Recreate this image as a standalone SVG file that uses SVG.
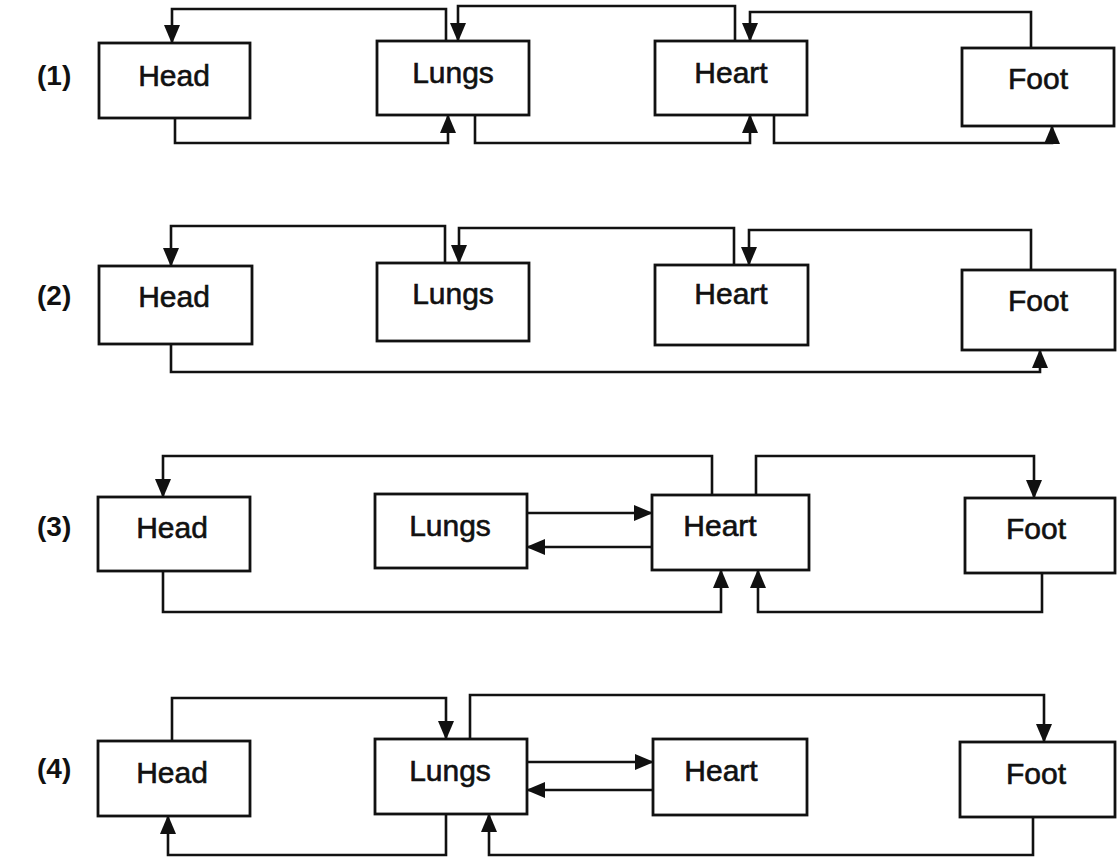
<svg xmlns="http://www.w3.org/2000/svg" width="1119" height="862" viewBox="0 0 1119 862">
  <style>
    .box { fill: #ffffff; stroke: #111111; stroke-width: 2.8; }
    .lbl { font-family: "Liberation Sans", Arial, sans-serif; font-size: 30px; fill: #111111; stroke: #111111; stroke-width: 0.6; text-anchor: middle; }
    .num { font-family: "Liberation Sans", Arial, sans-serif; font-size: 28px; font-weight: bold; fill: #111111; }
    .wire { fill: none; stroke: #111111; stroke-width: 2.6; marker-end: url(#arrow); }
  </style>
  <defs>
    <marker id="arrow" viewBox="0 0 19 16" refX="18" refY="8" markerWidth="19" markerHeight="16" markerUnits="userSpaceOnUse" orient="auto">
      <path d="M0,0 L19,8 L0,16 z" fill="#111111"/>
    </marker>
  </defs>
  <rect width="1119" height="862" fill="#ffffff"/>

  <!-- row numbers -->
  <g id="row-labels">
    <text class="num" x="37" y="85">(1)</text>
    <text class="num" x="37" y="305">(2)</text>
    <text class="num" x="37" y="536">(3)</text>
    <text class="num" x="37" y="778">(4)</text>
  </g>

  <!-- scheme 1 -->
  <g id="r1-head"><rect class="box" x="99" y="43" width="151" height="75"/><text class="lbl" x="174" y="86">Head</text></g>
  <g id="r1-lungs"><rect class="box" x="377" y="41" width="152" height="74"/><text class="lbl" x="453" y="83">Lungs</text></g>
  <g id="r1-heart"><rect class="box" x="655" y="41" width="152" height="74"/><text class="lbl" x="731" y="83">Heart</text></g>
  <g id="r1-foot"><rect class="box" x="962" y="48" width="152" height="78"/><text class="lbl" x="1038" y="89">Foot</text></g>

  <!-- scheme 2 -->
  <g id="r2-head"><rect class="box" x="99" y="266" width="153" height="78"/><text class="lbl" x="174" y="307">Head</text></g>
  <g id="r2-lungs"><rect class="box" x="377" y="263" width="152" height="78"/><text class="lbl" x="453" y="304">Lungs</text></g>
  <g id="r2-heart"><rect class="box" x="655" y="265" width="153" height="80"/><text class="lbl" x="731" y="304">Heart</text></g>
  <g id="r2-foot"><rect class="box" x="962" y="270" width="153" height="80"/><text class="lbl" x="1038" y="311">Foot</text></g>

  <!-- scheme 3 -->
  <g id="r3-head"><rect class="box" x="98" y="497" width="152" height="74"/><text class="lbl" x="172" y="538">Head</text></g>
  <g id="r3-lungs"><rect class="box" x="375" y="494" width="152" height="74"/><text class="lbl" x="450" y="536">Lungs</text></g>
  <g id="r3-heart"><rect class="box" x="652" y="495" width="157" height="75"/><text class="lbl" x="720" y="536">Heart</text></g>
  <g id="r3-foot"><rect class="box" x="965" y="498" width="150" height="75"/><text class="lbl" x="1036" y="539">Foot</text></g>

  <!-- scheme 4 -->
  <g id="r4-head"><rect class="box" x="98" y="741" width="152" height="75"/><text class="lbl" x="172" y="783">Head</text></g>
  <g id="r4-lungs"><rect class="box" x="375" y="739" width="152" height="75"/><text class="lbl" x="450" y="781">Lungs</text></g>
  <g id="r4-heart"><rect class="box" x="653" y="739" width="154" height="76"/><text class="lbl" x="721" y="781">Heart</text></g>
  <g id="r4-foot"><rect class="box" x="960" y="742" width="155" height="75"/><text class="lbl" x="1036" y="784">Foot</text></g>

  <g id="connectors">
    <!-- scheme 1 -->
    <path class="wire" d="M446,41 V9 H172 V43"/>
    <path class="wire" d="M735,41 V6 H458 V41"/>
    <path class="wire" d="M1031,48 V12 H750 V41"/>
    <path class="wire" d="M175,118 V143 H448 V115"/>
    <path class="wire" d="M475,115 V143 H750 V115"/>
    <path class="wire" d="M774,115 V143 H1052 V126"/>

    <!-- scheme 2 -->
    <path class="wire" d="M445,263 V226 H171 V266"/>
    <path class="wire" d="M734,265 V228 H459 V263"/>
    <path class="wire" d="M1031,270 V230 H749 V265"/>
    <path class="wire" d="M171,344 V372 H1040 V350"/>

    <!-- scheme 3 -->
    <path class="wire" d="M712,495 V456 H163 V497"/>
    <path class="wire" d="M756,495 V456 H1034 V498"/>
    <path class="wire" d="M527,513 H652"/>
    <path class="wire" d="M652,547 H527"/>
    <path class="wire" d="M163,571 V612 H721 V570"/>
    <path class="wire" d="M1042,573 V612 H758 V570"/>

    <!-- scheme 4 -->
    <path class="wire" d="M172,741 V698 H446 V739"/>
    <path class="wire" d="M470,739 V695 H1044 V742"/>
    <path class="wire" d="M527,762 H653"/>
    <path class="wire" d="M653,790 H527"/>
    <path class="wire" d="M446,814 V855 H168 V816"/>
    <path class="wire" d="M1033,817 V855 H489 V814"/>
  </g>
</svg>
